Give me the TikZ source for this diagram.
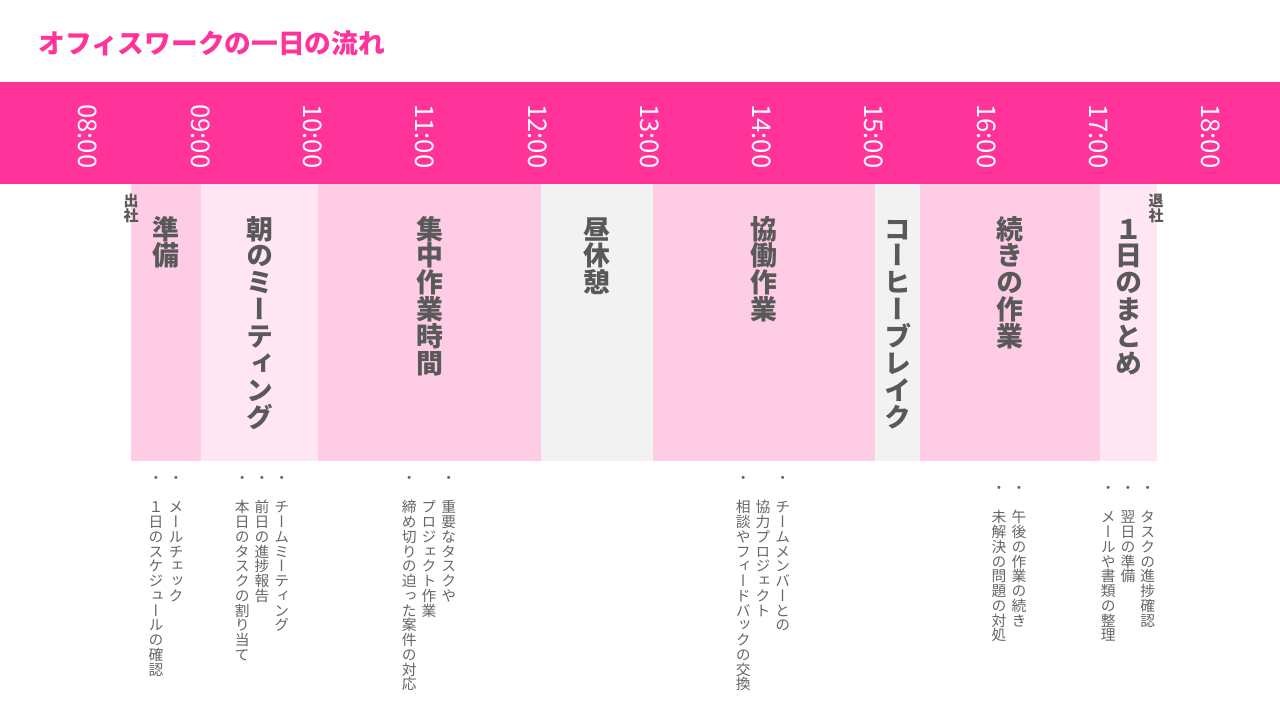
\documentclass[tikz,border=0pt]{standalone}
\usepackage{fontspec}
\setmainfont{Noto Sans CJK JP}
\newfontfamily\tatefont[RawFeature=+vert]{Noto Sans CJK JP}

\definecolor{bandpink}{HTML}{FF3399}
\definecolor{workpink}{HTML}{FFCCE5}
\definecolor{softpink}{HTML}{FFE6F2}
\definecolor{restgray}{HTML}{F2F2F2}
\definecolor{labgray}{HTML}{595959}
\definecolor{listgray}{HTML}{666666}

% vertical writing: one character per 1em cell, top to bottom
\makeatletter
\newcommand\tate[1]{\vtop{\offinterlineskip\tate@loop#1\relax}}
\def\tate@loop#1{\ifx\relax#1\else
  \hbox to 1em{\hss\vrule height .88em depth .12em width 0pt #1\hss}%
  \expandafter\tate@loop\fi}
\makeatother
\newcommand\tategap{\hskip 2.9pt}

\tikzset{
  hourlab/.style={rotate=-90, anchor=west, inner sep=0pt, text=white,
    font=\fontsize{14.6}{16}\selectfont},
  vlabel/.style={anchor=north, inner sep=0pt, text=labgray,
    font=\tatefont\bfseries\fontsize{15.3}{18}\selectfont},
  vmark/.style={anchor=north, inner sep=0pt, text=labgray,
    font=\tatefont\bfseries\fontsize{8.5}{9}\selectfont},
  vlist/.style={anchor=north, inner sep=0pt, text=listgray,
    font=\tatefont\fontsize{8.4}{10}\selectfont},
}

\begin{document}
\begin{tikzpicture}[x=0.02cm, y=-0.02cm]
\useasboundingbox[fill=white] (0,0) rectangle (1280,720);

% title
\node[anchor=west, inner sep=0pt, text=bandpink, font=\bfseries\fontsize{15.2}{18}\selectfont]
  (title) at (38,43) {オフィスワークの一日の流れ};

% hour band
\fill[bandpink] (0,82) rectangle (1280,184);
\foreach \h in {8,...,18}{
  \node[hourlab] (t\h) at ({88+(\h-8)*112.3},104) {\ifnum\h<10 0\fi\h:00};
}

% time slots
\fill[workpink] (131,184) rectangle (201,461);
\fill[softpink] (201,184) rectangle (318,461);
\fill[workpink] (318,184) rectangle (541,461);
\fill[restgray] (541,184) rectangle (653,461);
\fill[workpink] (653,184) rectangle (875,461);
\fill[restgray] (875,184) rectangle (920,461);
\fill[workpink] (920,184) rectangle (1100,461);
\fill[softpink] (1100,184) rectangle (1157,461);

% slot labels
\node[vlabel] (sJunbi)   at (166,215)    {\tate{準備}};
\node[vlabel] (sAsa)     at (259.5,215)  {\tate{朝のミーティング}};
\node[vlabel] (sShuchu)  at (429.5,215)  {\tate{集中作業時間}};
\node[vlabel] (sHiru)    at (597,215)    {\tate{昼休憩}};
\node[vlabel] (sKyodo)   at (764,215)    {\tate{協働作業}};
\node[vlabel] (sCoffee)  at (897.5,215)  {\tate{コーヒーブレイク}};
\node[vlabel] (sTsuzuki) at (1010,215)   {\tate{続きの作業}};
\node[vlabel] (sMatome)  at (1128.5,215) {\tate{１日のまとめ}};

\node[vmark] (mIn)  at (131,193)  {\tate{出社}};
\node[vmark] (mOut) at (1156,193) {\tate{退社}};

% task lists (columns written right to left: last line first)
\node[vlist] (lJunbi) at (166,470)
  {\tate{・　１日のスケジュールの確認}\tategap\tate{・　メールチェック}};
\node[vlist] (lAsa) at (262,470)
  {\tate{・　本日のタスクの割り当て}\tategap\tate{・　前日の進捗報告}\tategap\tate{・　チームミーティング}};
\node[vlist] (lShuchu) at (429,470)
  {\tate{・　締め切りの迫った案件の対応}\tategap\tate{　　プロジェクト作業}\tategap\tate{・　重要なタスクや}};
\node[vlist] (lKyodo) at (763,470)
  {\tate{・　相談やフィードバックの交換}\tategap\tate{　　協力プロジェクト}\tategap\tate{・　チームメンバーとの}};
\node[vlist] (lTsuzuki) at (1009,480)
  {\tate{・　未解決の問題の対処}\tategap\tate{・　午後の作業の続き}};
\node[vlist] (lMatome) at (1128,480)
  {\tate{・　メールや書類の整理}\tategap\tate{・　翌日の準備}\tategap\tate{・　タスクの進捗確認}};

\end{tikzpicture}
\end{document}
